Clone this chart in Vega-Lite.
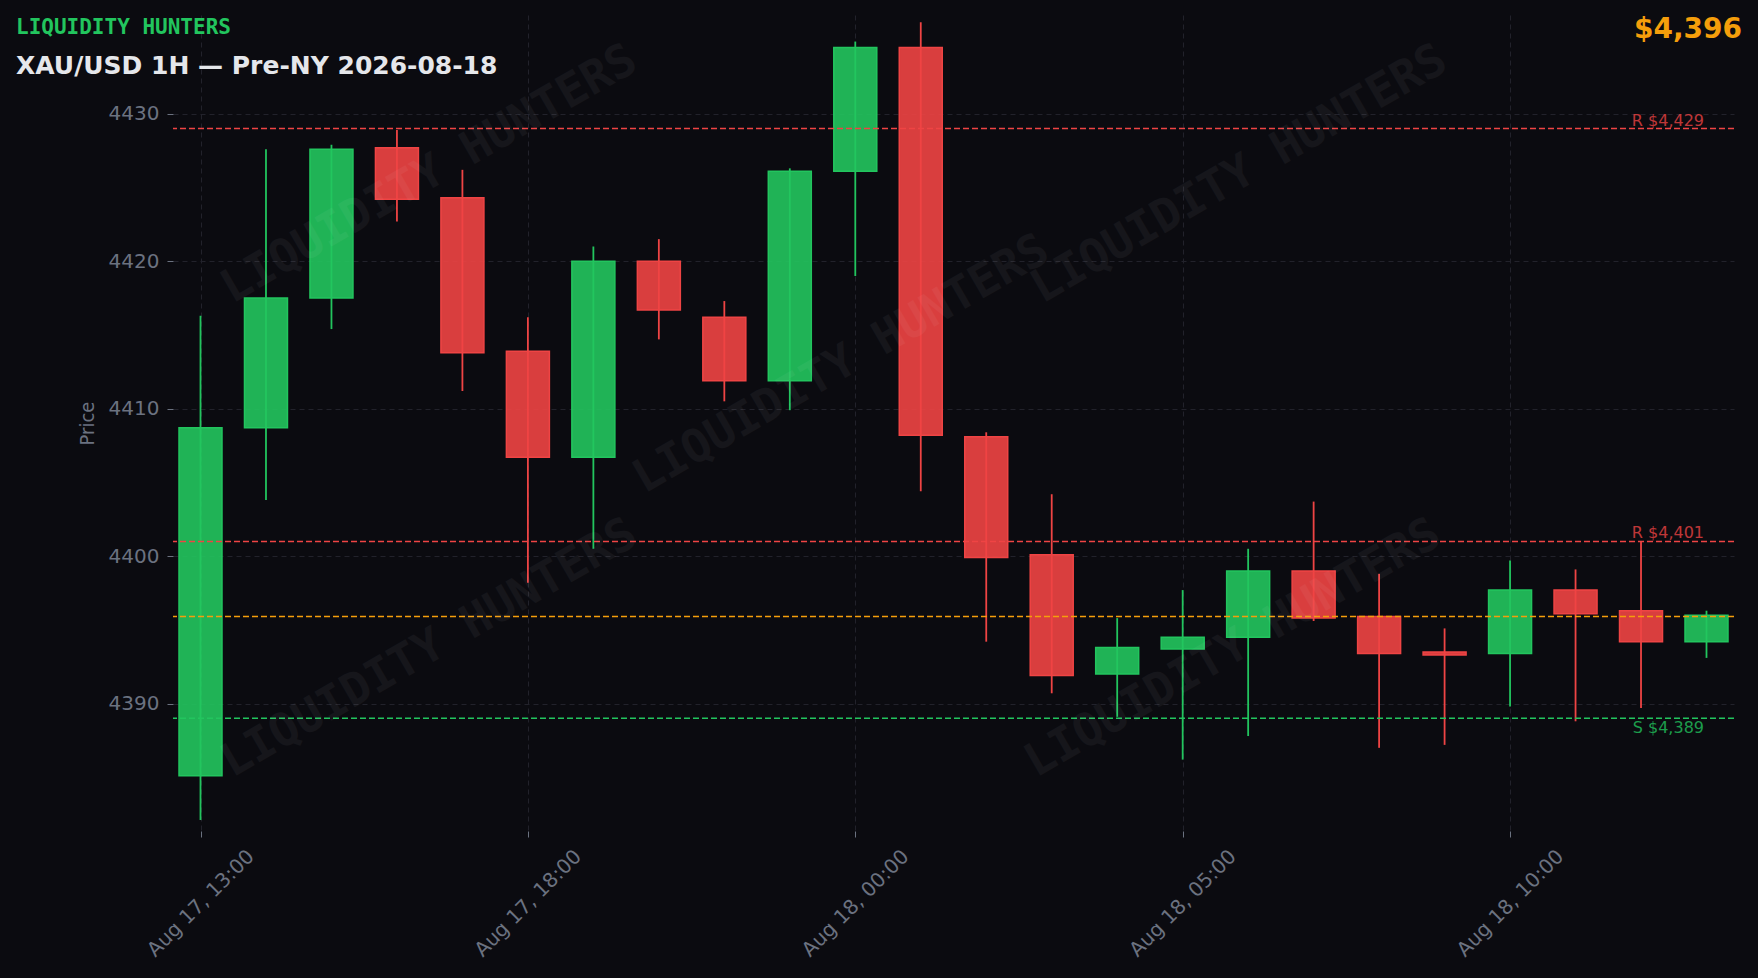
{
  "$schema": "https://vega.github.io/schema/vega-lite/v6.json",
  "width": 1561,
  "height": 816,
  "autosize": "none",
  "padding": {"left": 173, "top": 15, "right": 24, "bottom": 147},
  "background": "#0b0b10",
  "config": {
    "view": {"stroke": null},
    "axis": {
      "labelFont": "DejaVu Sans",
      "labelFontSize": 20,
      "labelColor": "#6b7280",
      "tickColor": "#6b7280",
      "tickSize": 6,
      "domain": false,
      "grid": true,
      "gridColor": "#22222b",
      "gridDash": [5, 4],
      "gridWidth": 1
    }
  },
  "title": {
    "text": "LIQUIDITY HUNTERS",
    "subtitle": "XAU/USD 1H — Pre-NY 2026-08-18",
    "anchor": "start",
    "frame": "group",
    "orient": "top",
    "offset": -64,
    "dx": -157,
    "font": "DejaVu Sans Mono",
    "fontWeight": "bold",
    "fontSize": 21,
    "color": "#22c55e",
    "subtitleFont": "DejaVu Sans",
    "subtitleFontWeight": "bold",
    "subtitleFontSize": 25,
    "subtitleColor": "#e5e7eb",
    "subtitlePadding": 16
  },
  "datasets": {
    "candles": [
      {"t": "Aug 17, 13:00", "open": 4385.1, "high": 4416.3, "low": 4382.1, "close": 4408.7},
      {"t": "Aug 17, 14:00", "open": 4408.7, "high": 4427.6, "low": 4403.8, "close": 4417.5},
      {"t": "Aug 17, 15:00", "open": 4417.5, "high": 4427.9, "low": 4415.4, "close": 4427.6},
      {"t": "Aug 17, 16:00", "open": 4427.7, "high": 4428.9, "low": 4422.7, "close": 4424.2},
      {"t": "Aug 17, 17:00", "open": 4424.3, "high": 4426.2, "low": 4411.2, "close": 4413.8},
      {"t": "Aug 17, 18:00", "open": 4413.9, "high": 4416.2, "low": 4398.2, "close": 4406.7},
      {"t": "Aug 17, 19:00", "open": 4406.7, "high": 4421.0, "low": 4400.5, "close": 4420.0},
      {"t": "Aug 17, 20:00", "open": 4420.0, "high": 4421.5, "low": 4414.7, "close": 4416.7},
      {"t": "Aug 17, 21:00", "open": 4416.2, "high": 4417.3, "low": 4410.5, "close": 4411.9},
      {"t": "Aug 17, 22:00", "open": 4411.9, "high": 4426.3, "low": 4409.9, "close": 4426.1},
      {"t": "Aug 18, 00:00", "open": 4426.1, "high": 4434.9, "low": 4419.0, "close": 4434.5},
      {"t": "Aug 18, 01:00", "open": 4434.5, "high": 4436.2, "low": 4404.4, "close": 4408.2},
      {"t": "Aug 18, 02:00", "open": 4408.1, "high": 4408.4, "low": 4394.2, "close": 4399.9},
      {"t": "Aug 18, 03:00", "open": 4400.1, "high": 4404.2, "low": 4390.7, "close": 4391.9},
      {"t": "Aug 18, 04:00", "open": 4392.0, "high": 4395.8, "low": 4389.1, "close": 4393.8},
      {"t": "Aug 18, 05:00", "open": 4393.7, "high": 4397.7, "low": 4386.2, "close": 4394.5},
      {"t": "Aug 18, 06:00", "open": 4394.5, "high": 4400.5, "low": 4387.8, "close": 4399.0},
      {"t": "Aug 18, 07:00", "open": 4399.0, "high": 4403.7, "low": 4395.6, "close": 4395.8},
      {"t": "Aug 18, 08:00", "open": 4395.9, "high": 4398.8, "low": 4387.0, "close": 4393.4},
      {"t": "Aug 18, 09:00", "open": 4393.5, "high": 4395.1, "low": 4387.2, "close": 4393.3},
      {"t": "Aug 18, 10:00", "open": 4393.4, "high": 4399.7, "low": 4389.8, "close": 4397.7},
      {"t": "Aug 18, 11:00", "open": 4397.7, "high": 4399.1, "low": 4388.8, "close": 4396.1},
      {"t": "Aug 18, 12:00", "open": 4396.3, "high": 4401.0, "low": 4389.7, "close": 4394.2},
      {"t": "Aug 18, 13:00", "open": 4394.2, "high": 4396.3, "low": 4393.1, "close": 4396.0}
    ],
    "levels": [
      {"kind": "R", "level": 4429, "label": "R $4,429"},
      {"kind": "R", "level": 4401, "label": "R $4,401"},
      {"kind": "S", "level": 4389, "label": "S $4,389"},
      {"kind": "last", "level": 4395.9, "label": ""}
    ],
    "watermarks": [
      {"text": "LIQUIDITY HUNTERS", "wx": 0.164, "wy": 0.195},
      {"text": "LIQUIDITY HUNTERS", "wx": 0.428, "wy": 0.428},
      {"text": "LIQUIDITY HUNTERS", "wx": 0.683, "wy": 0.195},
      {"text": "LIQUIDITY HUNTERS", "wx": 0.164, "wy": 0.776},
      {"text": "LIQUIDITY HUNTERS", "wx": 0.679, "wy": 0.776}
    ]
  },
  "layer": [
    {
      "layer": [
        {
          "data": {"name": "candles"},
          "mark": {"type": "rule", "strokeWidth": 1.8},
          "encoding": {
            "x": {
              "field": "t", "type": "ordinal", "sort": null,
              "scale": {"type": "point", "padding": 0.42},
              "axis": {
                "title": null,
                "values": ["Aug 17, 13:00", "Aug 17, 18:00", "Aug 18, 00:00", "Aug 18, 05:00", "Aug 18, 10:00"],
                "labelAngle": -45,
                "labelAlign": "center",
                "labelBaseline": "middle",
                "labelPadding": 66,
                "labelOverlap": false,
                "labelBound": false,
                "labelFlush": false
              }
            },
            "y": {
              "field": "low", "type": "quantitative",
              "scale": {"domain": [4381.36, 4436.7], "nice": false, "zero": false},
              "axis": {
                "title": "Price",
                "format": "d",
                "titleFont": "Liberation Sans Narrow, DejaVu Sans Condensed, DejaVu Sans",
                "titleFontSize": 20,
                "titleFontWeight": "normal",
                "titleColor": "#6b7280",
                "titlePadding": 11,
                "values": [4390, 4400, 4410, 4420, 4430],
                "labelPadding": 8
              }
            },
            "y2": {"field": "high"},
            "color": {"condition": {"test": "datum.close >= datum.open", "value": "#22c55e"}, "value": "#ef4444"}
          }
        },
        {
          "data": {"name": "candles"},
          "mark": {"type": "bar", "size": 43, "strokeWidth": 1.5, "fillOpacity": 0.9},
          "encoding": {
            "x": {"field": "t", "type": "ordinal", "sort": null},
            "y": {"field": "open", "type": "quantitative"},
            "y2": {"field": "close"},
            "fill": {"condition": {"test": "datum.close >= datum.open", "value": "#22c55e"}, "value": "#ef4444"},
            "stroke": {"condition": {"test": "datum.close >= datum.open", "value": "#22c55e"}, "value": "#ef4444"}
          }
        },
        {
          "data": {"name": "levels"},
          "mark": {"type": "rule", "strokeWidth": 1.5, "strokeDash": [6, 3]},
          "encoding": {
            "y": {"field": "level", "type": "quantitative"},
            "color": {
              "field": "kind", "type": "nominal", "legend": null,
              "scale": {"domain": ["R", "S", "last"], "range": ["#ef4444", "#22c55e", "#f59e0b"]}
            }
          }
        },
        {
          "data": {"name": "levels"},
          "transform": [{"filter": "datum.kind === 'R'"}],
          "mark": {"type": "text", "font": "DejaVu Sans", "fontSize": 16, "align": "right", "baseline": "alphabetic", "dx": -30, "dy": -3, "opacity": 0.78},
          "encoding": {
            "x": {"value": "width"},
            "y": {"field": "level", "type": "quantitative"},
            "text": {"field": "label"},
            "color": {"value": "#ef4444"}
          }
        },
        {
          "data": {"name": "levels"},
          "transform": [{"filter": "datum.kind === 'S'"}],
          "mark": {"type": "text", "font": "DejaVu Sans", "fontSize": 16, "align": "right", "baseline": "top", "dx": -30, "dy": 2, "opacity": 0.78},
          "encoding": {
            "x": {"value": "width"},
            "y": {"field": "level", "type": "quantitative"},
            "text": {"field": "label"},
            "color": {"value": "#22c55e"}
          }
        },
        {
          "data": {"name": "levels"},
          "transform": [{"filter": "datum.kind === 'last'"}],
          "mark": {"type": "text", "font": "DejaVu Sans", "fontWeight": "bold", "fontSize": 28, "align": "right", "baseline": "alphabetic", "dx": 8},
          "encoding": {
            "x": {"value": "width"},
            "y": {"value": 23},
            "text": {"field": "level", "type": "quantitative", "format": "$,.0f"},
            "color": {"value": "#f59e0b"}
          }
        }
      ]
    },
    {
      "data": {"name": "watermarks"},
      "mark": {"type": "text", "font": "DejaVu Sans Mono", "fontWeight": "bold", "fontSize": 46, "angle": 330, "align": "center", "baseline": "middle", "fill": "#ffffff", "opacity": 0.045},
      "encoding": {
        "x": {"field": "wx", "type": "quantitative", "scale": {"domain": [0, 1]}, "axis": null},
        "y": {"field": "wy", "type": "quantitative", "scale": {"domain": [0, 1], "reverse": true}, "axis": null},
        "text": {"field": "text"}
      }
    }
  ],
  "resolve": {"scale": {"x": "independent", "y": "independent"}}
}
